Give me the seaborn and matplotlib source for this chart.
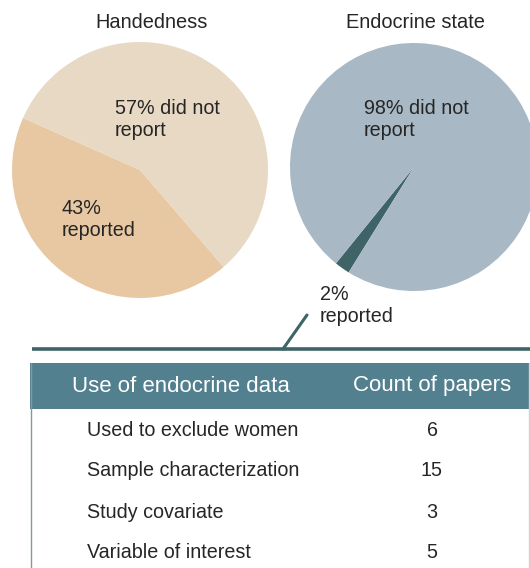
import matplotlib
matplotlib.use('Agg')
import matplotlib.pyplot as plt
import seaborn as sns
from matplotlib.patches import Rectangle

# data
pie_titles = ['Handedness', 'Endocrine state']
hand_labels = ['reported', 'did not report']
hand_values = [43, 57]
endo_labels = ['reported', 'did not report']
endo_values = [2, 98]

table_header = ['Use of endocrine data', 'Count of papers']
table_uses = ['Used to exclude women', 'Sample characterization',
              'Study covariate', 'Variable of interest']
table_counts = [6, 15, 3, 5]

hand_colors = ['#E8C8A2', '#E7D9C3']
endo_colors = ['#3E6467', '#A8B8C4']
teal = '#3E6467'
header_color = '#53808F'

sns.set_theme(style='white')
plt.rcParams['font.family'] = ['Liberation Sans', 'DejaVu Sans']

W, H = 530, 568
fig = plt.figure(figsize=(W / 100, H / 100), dpi=100)


def pie_axes(cx, cy, r):
    return fig.add_axes([(cx - r) / W, (H - cy - r) / H, 2 * r / W, 2 * r / H])


ax1 = pie_axes(140, 170, 128)
ax1.pie(hand_values, colors=hand_colors, startangle=156, counterclock=True,
        radius=1, wedgeprops=dict(linewidth=0))
ax1.set_xlim(-1, 1)
ax1.set_ylim(-1, 1)

ax2 = pie_axes(414, 167, 124)
ax2.pie(endo_values, colors=endo_colors, startangle=231, counterclock=True,
        radius=1, wedgeprops=dict(linewidth=0))
ax2.set_xlim(-1, 1)
ax2.set_ylim(-1, 1)

# overlay in pixel coords
ov = fig.add_axes([0, 0, 1, 1])
ov.set_xlim(0, W)
ov.set_ylim(H, 0)
ov.axis('off')
ov.patch.set_alpha(0)

fs = 14.2
ov.text(152, 22, pie_titles[0], ha='center', va='center', fontsize=14.4)
ov.text(415, 22, pie_titles[1], ha='center', va='center', fontsize=14.4)

ov.text(115, 120, '%d%% did not\nreport' % hand_values[1], ha='left', va='center',
        fontsize=fs, linespacing=1.2)
ov.text(62, 220, '%d%%\n%s' % (hand_values[0], hand_labels[0]), ha='left', va='center',
        fontsize=fs, linespacing=1.2)
ov.text(364, 120, '%d%% did not\nreport' % endo_values[1], ha='left', va='center',
        fontsize=fs, linespacing=1.2)
ov.text(320, 306, '%d%%\n%s' % (endo_values[0], endo_labels[0]), ha='left', va='center',
        fontsize=fs, linespacing=1.2)

# connector lines
ov.plot([32, W], [349, 349], color=teal, lw=2.6, solid_capstyle='butt')
ov.plot([283, 307], [349, 315], color=teal, lw=2.2)

# table
ov.add_patch(Rectangle((30, 363), W - 31, 46, facecolor=header_color,
                       edgecolor='none'))
ov.plot([31, 31], [363, H], color='#7F9AA3', lw=1)
ov.plot([529, 529], [363, H], color='#C9D5D8', lw=1)
ov.text(72, 386, table_header[0], ha='left', va='center', fontsize=16,
        color='white')
ov.text(432, 386, table_header[1], ha='center', va='center', fontsize=16,
        color='white')

row_y = [431, 470, 512, 552]
for y, use, cnt in zip(row_y, table_uses, table_counts):
    ov.text(87, y, use, ha='left', va='center', fontsize=fs)
    ov.text(432, y, str(cnt), ha='center', va='center', fontsize=fs)

fig.savefig('out.png', dpi=100)
